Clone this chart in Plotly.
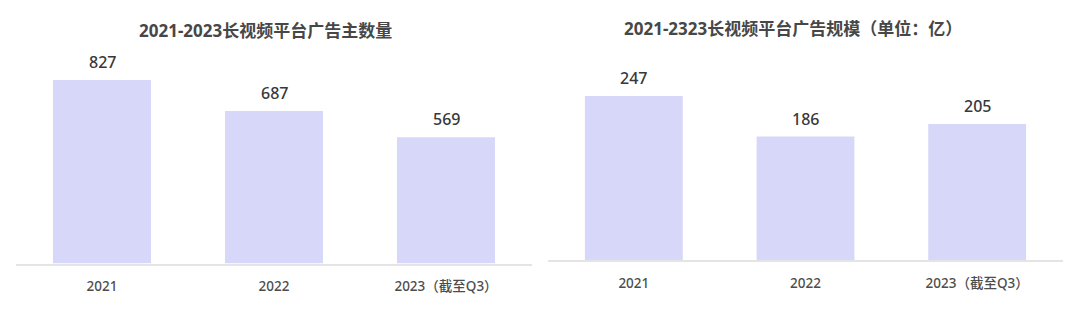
import plotly.graph_objects as go
from plotly.subplots import make_subplots

categories = ["2021", "2022", "2023（截至Q3）"]
advertisers = [827, 687, 569]
ad_scale = [247, 186, 205]
title_left = "2021-2023长视频平台广告主数量"
title_right = "2021-2323长视频平台广告规模（单位：亿）"

BAR = "#d7d7f9"
FONT = "Noto Sans, Noto Sans CJK SC, sans-serif"
pos = list(range(len(categories)))

fig = make_subplots(rows=1, cols=2)
fig.add_trace(go.Bar(x=pos, y=advertisers, marker_color=BAR, marker_line_width=0, width=0.57,
                     hoverinfo="skip"), row=1, col=1)
fig.add_trace(go.Bar(x=pos, y=ad_scale, marker_color=BAR, marker_line_width=0, width=0.57,
                     hoverinfo="skip"), row=1, col=2)

for xref, yref, vals in (("x", "y", advertisers), ("x2", "y2", ad_scale)):
    for p, v in zip(pos, vals):
        fig.add_annotation(x=p, y=v, xref=xref, yref=yref, text=str(v), showarrow=False,
                           yanchor="middle", yshift=18,
                           font=dict(size=16, color="#383838", family=FONT, weight=500))

fig.add_annotation(x=265/1080, y=1-31/310, xref="paper", yref="paper", text=f"<b>{title_left}</b>",
                   showarrow=False, xanchor="center", yanchor="middle",
                   font=dict(size=17, color="#474747", family=FONT))
fig.add_annotation(x=793/1080, y=1-28/310, xref="paper", yref="paper", text=f"<b>{title_right}</b>",
                   showarrow=False, xanchor="center", yanchor="middle",
                   font=dict(size=17, color="#474747", family=FONT))

axis_common = dict(range=[-0.5, len(categories) - 0.5], tickmode="array", tickvals=pos,
                   ticktext=categories, showline=True, linecolor="#e4e4e4", linewidth=2,
                   ticks="", showgrid=False, zeroline=False,
                   tickfont=dict(size=13.5, color="#4d4d4d", family=FONT, weight=500),
                   fixedrange=True)
fig.update_xaxes(**axis_common)
fig.update_layout(
    width=1080, height=310, margin=dict(l=0, r=0, t=0, b=0),
    paper_bgcolor="white", plot_bgcolor="white", showlegend=False,
    font=dict(family=FONT),
    xaxis=dict(domain=[16/1080, 532/1080], ticklabelstandoff=9),
    xaxis2=dict(domain=[548/1080, 1063/1080], ticklabelstandoff=10),
    yaxis=dict(domain=[(310-263.5)/310, (310-41.6)/310], range=[0, 1000], visible=False,
               fixedrange=True),
    yaxis2=dict(domain=[50/310, (310-60.8)/310], range=[0, 300], visible=False,
                fixedrange=True),
)
fig.update_traces(cliponaxis=False)
fig.write_html("out.html", config={"displayModeBar": False})
